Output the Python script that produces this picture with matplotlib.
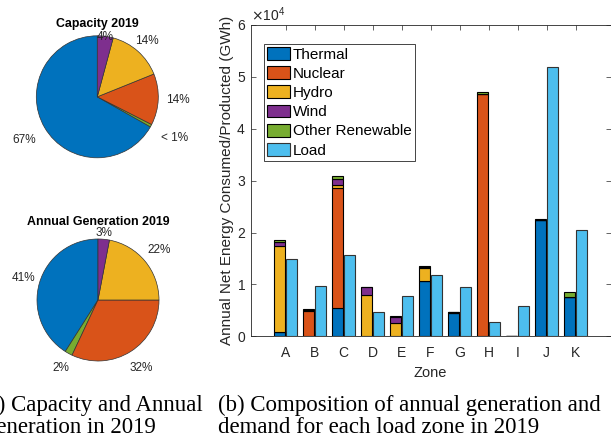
import matplotlib
matplotlib.use('Agg')
import matplotlib.pyplot as plt
import numpy as np

plt.rcParams['font.family'] = ['Liberation Sans', 'DejaVu Sans']

# ---- pie data (percent), drawn counter-clockwise from the top ----
pie_names = ['Thermal', 'Other Renewable', 'Nuclear', 'Hydro', 'Wind']
cap_share = [66.8, 0.7, 13.6, 14.7, 4.2]
cap_labels = ['67%', '< 1%', '14%', '14%', '4%']
gen_share = [41, 2, 32, 22, 3]
gen_labels = ['41%', '2%', '32%', '22%', '3%']

# ---- annual energy per zone (GWh) ----
zones = ['A', 'B', 'C', 'D', 'E', 'F', 'G', 'H', 'I', 'J', 'K']
thermal = [770, 50, 5400, 100, 100, 10600, 4450, 0, 0, 22400, 7500]
nuclear = [0, 4900, 23100, 0, 0, 0, 0, 46700, 0, 0, 0]
hydro = [16730, 150, 600, 7800, 2450, 2650, 150, 0, 0, 0, 50]
wind = [600, 0, 1200, 1550, 1250, 100, 0, 0, 0, 0, 50]
other = [400, 100, 500, 50, 200, 150, 150, 300, 50, 150, 950]
load = [14850, 9650, 15750, 4760, 7850, 11770, 9520, 2700, 5900, 52000, 20450]

colors = {'Thermal': '#0072BD', 'Nuclear': '#D95319', 'Hydro': '#EDB120',
          'Wind': '#7E2F8E', 'Other Renewable': '#77AC30', 'Load': '#4DBEEE'}
axcol = '#262626'

fig = plt.figure(figsize=(6.11, 4.43), dpi=100)
W, H = 611, 443


def pie_axes(cx, cy, r):
    return fig.add_axes([(cx - r) / W, (H - cy - r) / H, 2 * r / W, 2 * r / H])


def draw_pie(ax, share, labels, lab_r, title, title_y):
    wedges, _ = ax.pie(share, colors=[colors[n] for n in pie_names], startangle=90,
                       counterclock=True, normalize=True,
                       wedgeprops=dict(edgecolor='#333333', linewidth=0.5))
    ax.set_xlim(-1, 1)
    ax.set_ylim(-1, 1)
    for w, lab, rr in zip(wedges, labels, lab_r):
        mid = np.deg2rad((w.theta1 + w.theta2) / 2)
        ax.text(rr * np.cos(mid), rr * np.sin(mid), lab, ha='center', va='center',
                fontsize=8.5, color=axcol)
    ax.text(0.5, title_y, title, transform=ax.transAxes, ha='center', va='center',
            fontsize=8.9, fontweight='bold', color='black')


ax1 = pie_axes(97.3, 96.8, 61)
draw_pie(ax1, cap_share, cap_labels, [1.39, 1.43, 1.33, 1.23, 0.99], 'Capacity 2019', 1.098)
ax2 = pie_axes(98, 300, 61)
draw_pie(ax2, gen_share, gen_labels, [1.27, 1.28, 1.32, 1.29, 1.1],
         'Annual Generation 2019', 1.139)

# ---- bar chart ----
ax = fig.add_axes([250.7 / W, (H - 336.3) / H, 359.8 / W, 311.3 / H])
x = np.arange(1, len(zones) + 1)
bw = 0.38
stack = [('Thermal', thermal), ('Nuclear', nuclear), ('Hydro', hydro),
         ('Wind', wind), ('Other Renewable', other)]
bottom = np.zeros(len(zones))
for name, vals in stack:
    ax.bar(x - 0.2, vals, bw, bottom=bottom, color=colors[name], edgecolor='black',
           linewidth=0.8, label=name)
    bottom += np.array(vals)
ax.bar(x + 0.2, load, bw, color=colors['Load'], edgecolor='#333333', linewidth=0.8,
       label='Load')

ax.set_xlim(-0.2, 12.2)
ax.set_ylim(0, 60000)
ax.set_xticks(x)
ax.set_xticklabels(zones)
ax.set_yticks(np.arange(0, 60001, 10000))
ax.ticklabel_format(axis='y', style='sci', scilimits=(4, 4), useMathText=True)
ax.yaxis.get_offset_text().set_fontsize(10)
ax.yaxis.get_offset_text().set_color(axcol)
ax.tick_params(direction='in', length=3.5, width=0.5, colors=axcol, labelsize=10,
               top=True, right=True)
ax.tick_params(axis='x', pad=7)
for s in ax.spines.values():
    s.set_linewidth(0.6)
    s.set_color(axcol)
ax.set_xlabel('Zone', fontsize=10.5, color=axcol, labelpad=4)
ax.set_ylabel('Annual Net Energy Consumed/Producted (GWh)', fontsize=11, color=axcol,
              labelpad=2)

leg = ax.legend(loc='upper left', bbox_to_anchor=(0.037, 0.939), borderaxespad=0,
                fontsize=11, fancybox=False, edgecolor=axcol, framealpha=1,
                handlelength=1.5, handleheight=0.9, handletextpad=0.2,
                labelspacing=0.3, borderpad=0.2)
leg.get_frame().set_linewidth(0.6)

# ---- captions ----
serif = ['Liberation Serif', 'DejaVu Serif']
cap_fs = 16.5
ta = fig.text(203 / W, 1 - 411 / H, '(a) Capacity and Annual', family=serif,
              fontsize=cap_fs, va='baseline', ha='right')
fig.canvas.draw()
left_a = ta.get_window_extent().x0 / W
fig.text(left_a, 1 - 433 / H, 'Generation in 2019', family=serif, fontsize=cap_fs,
         va='baseline', ha='left')
fig.text(218 / W, 1 - 411 / H, '(b) Composition of annual generation and', family=serif,
         fontsize=cap_fs, va='baseline', ha='left')
fig.text(218 / W, 1 - 433 / H, 'demand for each load zone in 2019', family=serif,
         fontsize=cap_fs, va='baseline', ha='left')

fig.savefig('out.png', dpi=100)
